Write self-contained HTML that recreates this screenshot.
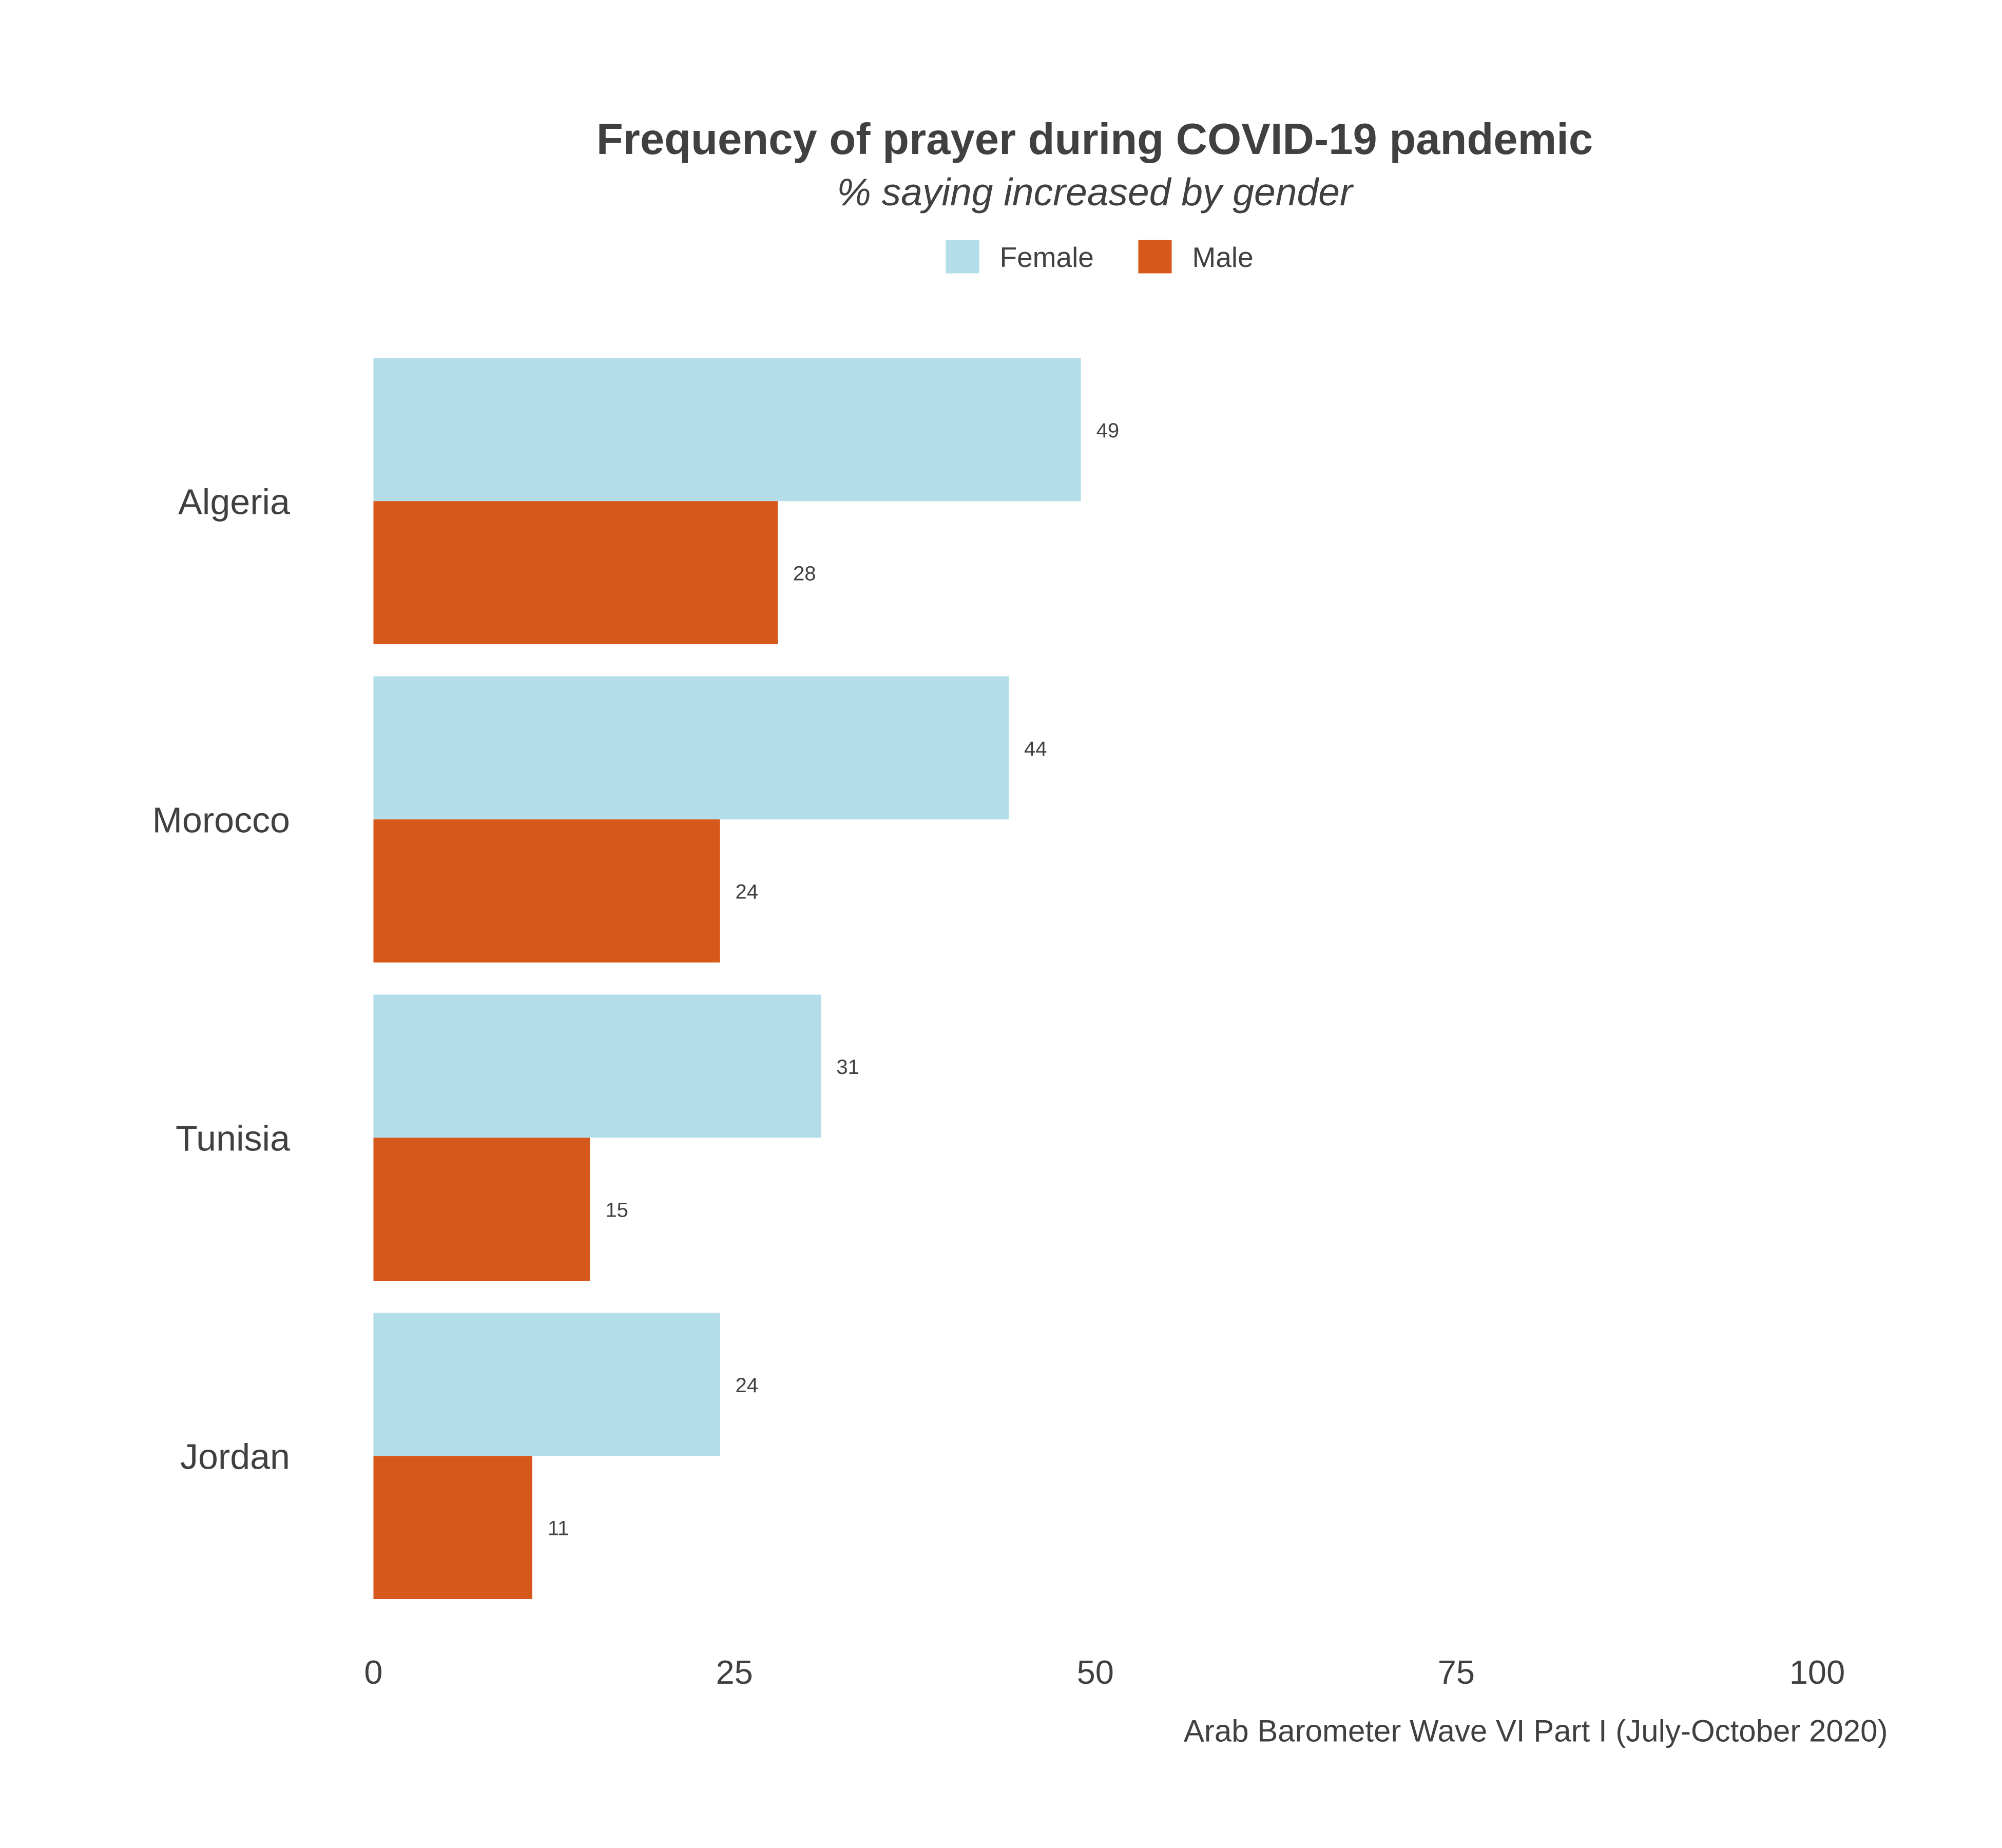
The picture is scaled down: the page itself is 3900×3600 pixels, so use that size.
<!DOCTYPE html>
<html><head><meta charset="utf-8"><style>
html,body{margin:0;padding:0;background:#fff;}
svg{display:block;font-family:"Liberation Sans",sans-serif;}
</style></head><body>
<svg id="chart" width="3900" height="3600" viewBox="0 0 1560 1440" xmlns="http://www.w3.org/2000/svg">
<rect width="1560" height="1440" fill="#fff"/>
<text x="853" y="120" text-anchor="middle" font-size="34" font-weight="bold" fill="#404040">Frequency of prayer during COVID-19 pandemic</text>
<text x="853" y="160" text-anchor="middle" font-size="30" font-style="italic" fill="#404040">% saying increased by gender</text>
<g>
<rect x="737" y="187" width="26" height="26" fill="#b3dee9"/>
<text x="779" y="208" font-size="22" fill="#404040">Female</text>
<rect x="887" y="187" width="26" height="26" fill="#d6591b"/>
<text x="929" y="208" font-size="22" fill="#404040">Male</text>
</g>
<g id="bars"></g>
<g id="axis"></g>
<text x="1471" y="1357" text-anchor="end" font-size="24" fill="#404040">Arab Barometer Wave VI Part I (July-October 2020)</text>
</svg>
<script>
const countries = ["Algeria","Morocco","Tunisia","Jordan"];
const female = [49,44,31,24];
const male = [28,24,15,11];
const ticks = [0,25,50,75,100];

const NS="http://www.w3.org/2000/svg";
const x0=291, x1=1416;
function xs(v){return x0+(x1-x0)*v/100;}
const top0=279, step=248, bh=111.5;
function yg(i){return top0+i*step;}
const bars=document.getElementById('bars');
const axis=document.getElementById('axis');
function mk(tag,attrs,parent){const e=document.createElementNS(NS,tag);for(const k in attrs)e.setAttribute(k,attrs[k]);parent.appendChild(e);return e;}
countries.forEach((c,i)=>{
  const y=yg(i);
  const lab=mk('text',{x:226,y:y+bh+10,'text-anchor':'end','font-size':28,fill:'#404040'},bars);
  lab.textContent=c;
  
  
  [[female,'#b3dee9',0,'female'],[male,'#d6591b',bh,'male']].forEach(([arr,col,off,nm])=>{
    const r=mk('rect',{x:x0,y:y+off,width:xs(arr[i])-x0,height:bh,fill:col},bars);
    
    
    const t=mk('text',{x:xs(arr[i])+12,y:y+off+bh/2+6,'font-size':16,fill:'#404040'},bars);
    t.textContent=arr[i];
    
    
  });
});
ticks.forEach(v=>{
  const t=mk('text',{x:xs(v),y:1312,'text-anchor':'middle','font-size':26,fill:'#404040'},axis);
  t.textContent=v;
  
  
});
</script>
</body></html>
